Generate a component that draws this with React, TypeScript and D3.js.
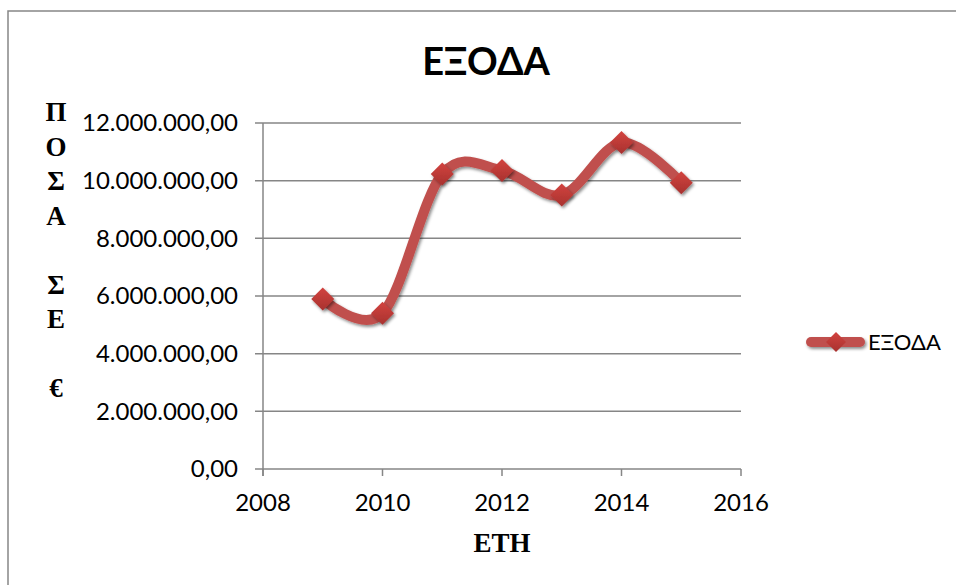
import React from "react";
import * as d3 from "d3";

const years = [2009, 2010, 2011, 2012, 2013, 2014, 2015];
const expenses = [5900000, 5400000, 10230000, 10350000, 9500000, 11320000, 9930000];
const yTicks = [0, 2000000, 4000000, 6000000, 8000000, 10000000, 12000000];
const xTicks = [2008, 2010, 2012, 2014, 2016];
const seriesName = "ΕΞΟΔΑ";
const titleText = "ΕΞΟΔΑ";
const xTitle = "ΕΤΗ";
const yTitleLines = ["Π", "Ο", "Σ", "Α", "", "Σ", "Ε", "", "€"];

const W = 956;
const H = 585;
const plot = { left: 263, right: 741, top: 123, bottom: 469 };
const GRID = "#868686";
const RED = "#C0504D";
const SANS = "Lato, 'Open Sans', sans-serif";
const SERIF = "'Liberation Serif', 'DejaVu Serif', serif";

function fmt(v: number): string {
  const s = d3.format(",.2f")(v);
  return s.replace(/,/g, "#").replace(/\./g, ",").replace(/#/g, ".");
}

export default function App() {
  const x = d3.scaleLinear().domain([2008, 2016]).range([plot.left, plot.right]);
  const y = d3.scaleLinear().domain([0, 12000000]).range([plot.bottom, plot.top]);
  const pts: [number, number][] = years.map((yr, i) => [x(yr), y(expenses[i])]);
  const line = d3.line().curve(d3.curveCatmullRom.alpha(0))(pts) || "";
  const diamond = (cx: number, cy: number, r: number) =>
    `M${cx},${cy - r}L${cx + r},${cy}L${cx},${cy + r}L${cx - r},${cy}Z`;

  return (
    <svg
      width={W}
      height={H}
      style={{ position: "absolute", left: 0, top: 0, display: "block", background: "#fff" }}
    >
      <defs>
        <filter id="sh" filterUnits="userSpaceOnUse" x={0} y={0} width={W} height={H}>
          <feDropShadow dx="1.5" dy="2" stdDeviation="1.6" floodColor="#000" floodOpacity="0.45" />
        </filter>
        <linearGradient id="mk" x1="0" y1="0" x2="0" y2="1">
          <stop offset="0" stopColor="#D2433F" />
          <stop offset="1" stopColor="#A8322F" />
        </linearGradient>
      </defs>
      <rect x={0} y={0} width={W} height={H} fill="#fff" />
      <rect x={8} y={11} width={W + 20} height={H + 20} fill="none" stroke={GRID} strokeWidth={1.5} />

      <text x={486} y={75} textAnchor="middle" fontFamily={SANS} fontWeight={700} fontSize={38} fill="#000">
        {titleText}
      </text>

      {yTicks.map((t) => (
        <g key={t}>
          <line x1={plot.left - 8} x2={plot.right} y1={y(t)} y2={y(t)} stroke={GRID} strokeWidth={1.5} />
          <text x={238} y={y(t)} dy="0.35em" textAnchor="end" fontFamily={SANS} fontSize={24} fill="#000">
            {fmt(t)}
          </text>
        </g>
      ))}
      <line x1={plot.left} x2={plot.left} y1={plot.top} y2={plot.bottom + 7} stroke={GRID} strokeWidth={1.5} />
      {xTicks.map((t) => (
        <g key={t}>
          <line x1={x(t)} x2={x(t)} y1={plot.bottom} y2={plot.bottom + 7} stroke={GRID} strokeWidth={1.5} />
          <text x={x(t)} y={511} textAnchor="middle" fontFamily={SANS} fontSize={24} fill="#000">
            {t}
          </text>
        </g>
      ))}

      <path d={line} fill="none" stroke={RED} strokeWidth={10} strokeLinecap="round" strokeLinejoin="round" filter="url(#sh)" />
      {pts.map(([px, py], i) => (
        <path key={i} d={diamond(px, py, 11.5)} fill="url(#mk)" filter="url(#sh)" />
      ))}

      <text x={502} y={552} textAnchor="middle" fontFamily={SERIF} fontWeight={700} fontSize={27} fill="#000">
        {xTitle}
      </text>
      {yTitleLines.map((c, i) => (
        <text key={i} x={56} y={112 + i * 34.5} dy="0.35em" textAnchor="middle" fontFamily={SERIF} fontWeight={700} fontSize={27} fill="#000">
          {c}
        </text>
      ))}

      <rect x={806} y={337} width={59} height={10} rx={5} fill={RED} filter="url(#sh)" />
      <path d={diamond(836, 342, 10)} fill="url(#mk)" />
      <text x={868} y={342} dy="0.35em" fontFamily={SANS} fontSize={22} fill="#000">
        {seriesName}
      </text>
    </svg>
  );
}
